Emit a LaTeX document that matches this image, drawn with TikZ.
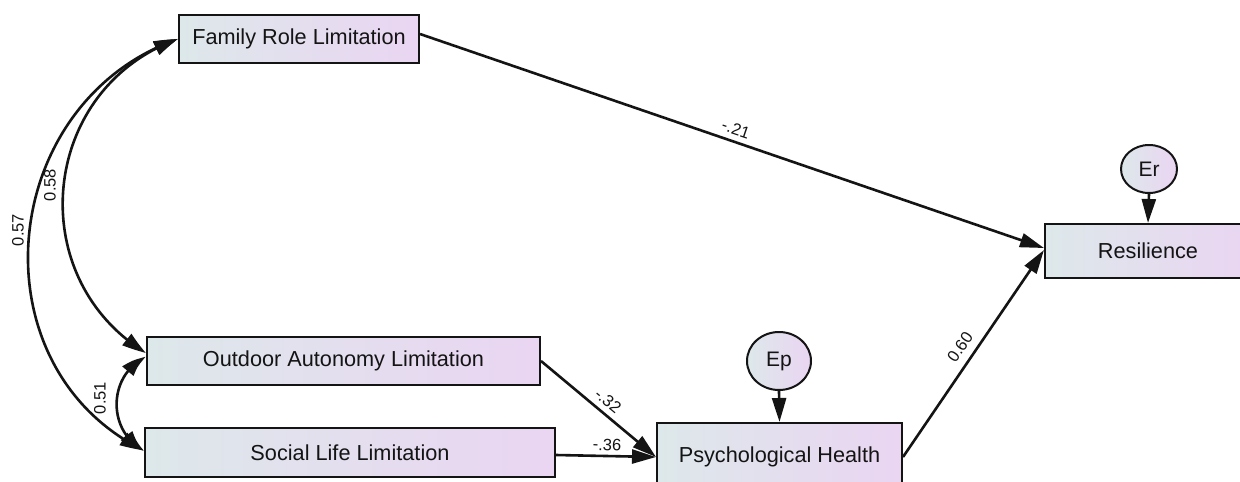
\documentclass[tikz,border=0pt]{standalone}
\usepackage{fontspec}
\setmainfont{Liberation Sans}
\usetikzlibrary{arrows.meta,shapes.geometric,bending}
\definecolor{boxL}{RGB}{221,232,234}
\definecolor{boxR}{RGB}{234,213,242}
\definecolor{ink}{RGB}{20,20,20}
\tikzset{
  varbox/.style={draw=ink, line width=2pt, left color=boxL, right color=boxR,
    inner sep=0pt, text=ink, font=\fontsize{21.7}{26}\selectfont},
  errnode/.style={ellipse, draw=ink, line width=2pt, left color=boxL, right color=boxR,
    inner sep=0pt, text=ink, font=\fontsize{21}{25}\selectfont},
  arr/.style={line width=2.6pt, draw=ink, -{Triangle[length=24pt,width=14pt]}},
  dblarr/.style={line width=2.6pt, draw=ink, {Triangle[length=24pt,width=14pt,bend]}-{Triangle[length=24pt,width=14pt,bend]}},
  coef/.style={text=ink, inner sep=0pt, font=\fontsize{16.5}{20}\selectfont}
}
\begin{document}
\begin{tikzpicture}[x=1pt,y=-1pt]
\useasboundingbox (0,0) rectangle (1240,482);
\clip (0,0) rectangle (1240,482);
\fill[white] (0,0) rectangle (1240,482);
% variables
\node[varbox, minimum width=240pt, minimum height=48pt] (fam) at (299,39) {Family Role Limitation};
\node[varbox, minimum width=393pt, minimum height=48pt] (out) at (343.5,361) {Outdoor Autonomy Limitation};
\node[varbox, minimum width=410pt, minimum height=49pt] (soc) at (350,452.5) {Social Life Limitation};
\node[varbox, minimum width=245pt, minimum height=68pt] (psy) at (779.5,457) {Psychological Health};
\node[varbox, minimum width=206pt, minimum height=54pt] (res) at (1148,251) {Resilience};
\node[errnode, minimum width=64pt, minimum height=58pt] (ep) at (779,361) {Ep};
\node[errnode, minimum width=56pt, minimum height=48pt] (er) at (1149,169) {Er};
% regressions
\draw[arr] ([yshift=5pt]fam.east) -- ([yshift=3pt]res.west);
\draw[arr] (out.east) -- (psy.west);
\draw[arr] ([yshift=-2.5pt]soc.east) -- (psy.west);
\draw[arr] (psy.east) -- ([yshift=1pt]res.west);
\draw[arr] (ep.south) -- (psy.north);
\draw[arr] (er.south) -- (res.north);
% covariances
\draw[dblarr] (fam.west) .. controls (-3.4,102.5) and (-27,366.4) .. ([yshift=2pt]soc.west);
\draw[dblarr] (fam.west) .. controls (40.3,88.3) and (21.3,276.5) .. ([yshift=8pt]out.west);
\draw[dblarr] ([yshift=4pt]out.west) .. controls (107.8,374.7) and (106.5,431) .. ([yshift=2pt]soc.west);
% coefficients
\node[coef, rotate=90] (c57) at (18,230) {0.57};
\node[coef, rotate=90] (c58) at (50,185) {0.58};
\node[coef, rotate=90] (c51) at (100,398) {0.51};
\node[coef, rotate=-18.6] (c21) at (736,129) {-.21};
\node[coef, rotate=-39.6] (c32) at (608,401) {-.32};
\node[coef, rotate=-2.8] (c36) at (607,445) {-.36};
\node[coef, rotate=55.5] (c60) at (960,347) {0.60};
\end{tikzpicture}
\end{document}
